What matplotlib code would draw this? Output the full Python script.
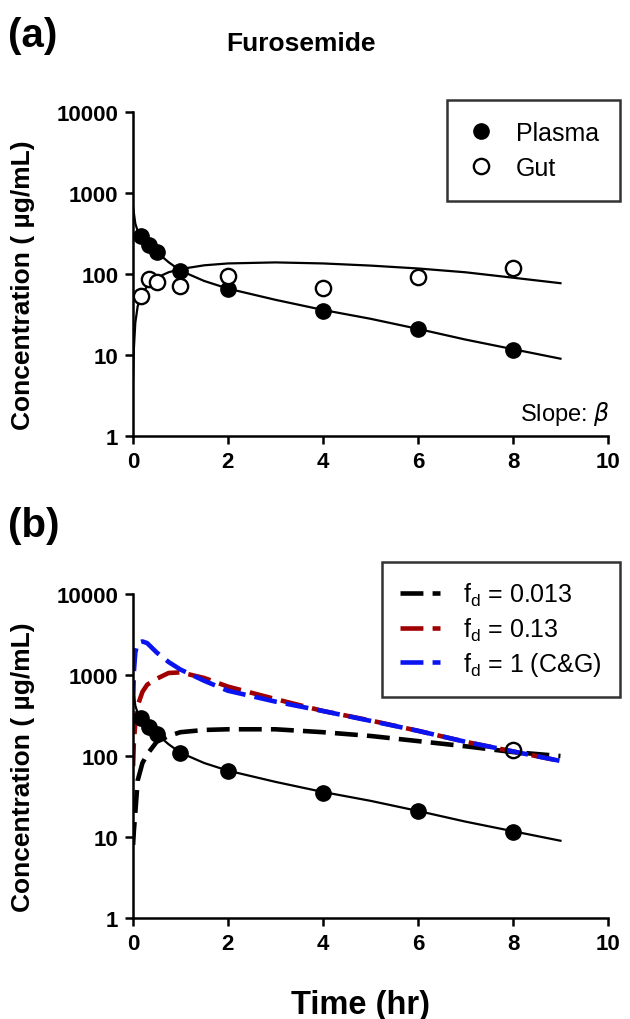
import matplotlib
matplotlib.use('Agg')
import matplotlib.pyplot as plt
from matplotlib.ticker import FixedLocator, FixedFormatter, NullLocator
from matplotlib.lines import Line2D

plt.rcParams['font.family'] = ['Liberation Sans', 'DejaVu Sans']

# observed data (hr, ug/mL)
t_obs = [0.167, 0.333, 0.5, 1, 2, 4, 6, 8]
plasma_obs = [295, 229, 187, 109, 65, 35, 21, 11.5]
gut_obs = [54, 87, 80, 71, 95, 67, 92, 118]

# fitted curves, panel (a)
t_plasma_fit = [0, 0.05, 0.1, 0.167, 0.25, 0.333, 0.5, 0.75, 1, 1.5, 2, 3, 4, 5, 6, 7, 8, 9]
plasma_fit = [690, 420, 340, 290, 255, 228, 187, 140, 110, 82, 66, 48, 36, 28, 21, 15.5, 11.8, 9.0]
t_gut_fit = [0.003, 0.02, 0.05, 0.1, 0.167, 0.25, 0.333, 0.5, 0.75, 1, 1.5, 2, 3, 4, 5, 6, 7, 8, 9]
gut_fit = [5, 12, 25, 40, 52, 64, 75, 90, 105, 115, 128, 135, 139, 135, 127, 117, 105, 90, 77]

# simulated gut curves, panel (b)
t_sim = [0.003, 0.02, 0.05, 0.1, 0.2, 0.3, 0.5, 0.75, 1, 1.5, 2, 3, 4, 5, 6, 7, 8, 9]
fd_0013 = [8, 12, 20, 50, 82, 105, 150, 177, 197, 210, 214, 214, 197, 177, 153, 132, 112, 100]
fd_013 = [75, 150, 260, 420, 620, 760, 900, 1060, 1080, 920, 720, 505, 360, 275, 205, 150, 114, 87]
fd_1 = [450, 1100, 1900, 2500, 2600, 2480, 1900, 1450, 1170, 850, 640, 470, 360, 272, 205, 150, 114, 87]

yticks = [1, 10, 100, 1000, 10000]
ytick_labels = ['1', '10', '100', '1000', '10000']
xticks = [0, 2, 4, 6, 8, 10]

RED = '#A00000'
BLUE = '#0A14F0'
MS = 11
DASH = (5, 2)


def style_axes(ax):
    ax.set_yscale('log')
    ax.set_xlim(0, 10)
    ax.set_ylim(1, 10000)
    ax.yaxis.set_major_locator(FixedLocator(yticks))
    ax.yaxis.set_major_formatter(FixedFormatter(ytick_labels))
    ax.yaxis.set_minor_locator(NullLocator())
    ax.set_xticks(xticks)
    ax.set_xticklabels([str(x) for x in xticks])
    for s in ['top', 'right']:
        ax.spines[s].set_visible(False)
    for s in ['left', 'bottom']:
        ax.spines[s].set_linewidth(1.8)
    ax.tick_params(direction='out', length=5.5, width=1.8, labelsize=16)
    ax.tick_params(axis='x', pad=5)
    ax.tick_params(axis='y', pad=5)
    for lab in ax.get_xticklabels() + ax.get_yticklabels():
        lab.set_fontweight('bold')
    ax.set_ylabel('Concentration ( \u00b5g/mL)', fontsize=19, fontweight='bold')
    ax.yaxis.set_label_coords(-0.206, 0.47)


fig = plt.figure(figsize=(6.3, 10.2), dpi=100)

# panel (a)
ax1 = fig.add_axes([0.211, 0.5716, 0.754, 0.3176])
style_axes(ax1)
ax1.plot(t_plasma_fit, plasma_fit, color='black', lw=1.6)
ax1.plot(t_gut_fit, gut_fit, color='black', lw=1.6)
ax1.plot(t_obs, plasma_obs, 'o', color='black', ms=MS, zorder=3)
ax1.plot(t_obs, gut_obs, 'o', mfc='white', mec='black', mew=1.7, ms=MS, zorder=3)
ax1.text(10.05, 1.3, 'Slope: $\\beta$', fontsize=17, ha='right', va='bottom')

h_a = [Line2D([], [], ls='none', marker='o', color='black', ms=MS),
       Line2D([], [], ls='none', marker='o', mfc='white', mec='black', mew=1.7, ms=MS)]
leg1 = fig.legend(h_a, ['Plasma', 'Gut'], loc='upper right', bbox_to_anchor=(0.984, 0.901),
                  fontsize=18, frameon=True, fancybox=False, edgecolor='black',
                  handlelength=1.0, handletextpad=0.9, borderpad=0.85, labelspacing=0.42,
                  borderaxespad=0)
leg1.get_frame().set_linewidth(1.8)

fig.text(0.478, 0.957, 'Furosemide', fontsize=19, fontweight='bold', ha='center', va='center')
fig.text(0.012, 0.965, '(a)', fontsize=29, fontweight='bold', ha='left', va='center')

# panel (b)
ax2 = fig.add_axes([0.211, 0.099, 0.754, 0.3176])
style_axes(ax2)
ax2.plot(t_sim, fd_0013, color='black', lw=3.3, dashes=DASH, label='f$_\\mathregular{d}$ = 0.013')
ax2.plot(t_sim, fd_013, color=RED, lw=3.3, dashes=DASH, label='f$_\\mathregular{d}$ = 0.13')
ax2.plot(t_sim, fd_1, color=BLUE, lw=3.3, dashes=DASH, label='f$_\\mathregular{d}$ = 1 (C&G)')
ax2.plot(t_plasma_fit, plasma_fit, color='black', lw=1.6)
ax2.plot(t_obs, plasma_obs, 'o', color='black', ms=MS, zorder=3)
ax2.plot([t_obs[-1]], [gut_obs[-1]], 'o', mfc='none', mec='black', mew=1.7, ms=MS, zorder=3)
ax2.set_xlabel('Time (hr)', fontsize=23.5, fontweight='bold')
ax2.xaxis.set_label_coords(0.48, -0.22)

h_b, l_b = ax2.get_legend_handles_labels()
leg2 = fig.legend(h_b, l_b, loc='upper right', bbox_to_anchor=(0.984, 0.448),
                  fontsize=18, frameon=True, fancybox=False, edgecolor='black',
                  handlelength=1.6, handletextpad=0.9, borderpad=0.75, labelspacing=0.3,
                  borderaxespad=0)
leg2.get_frame().set_linewidth(1.8)

fig.text(0.012, 0.484, '(b)', fontsize=29, fontweight='bold', ha='left', va='center')

fig.savefig('out.png', dpi=100)
